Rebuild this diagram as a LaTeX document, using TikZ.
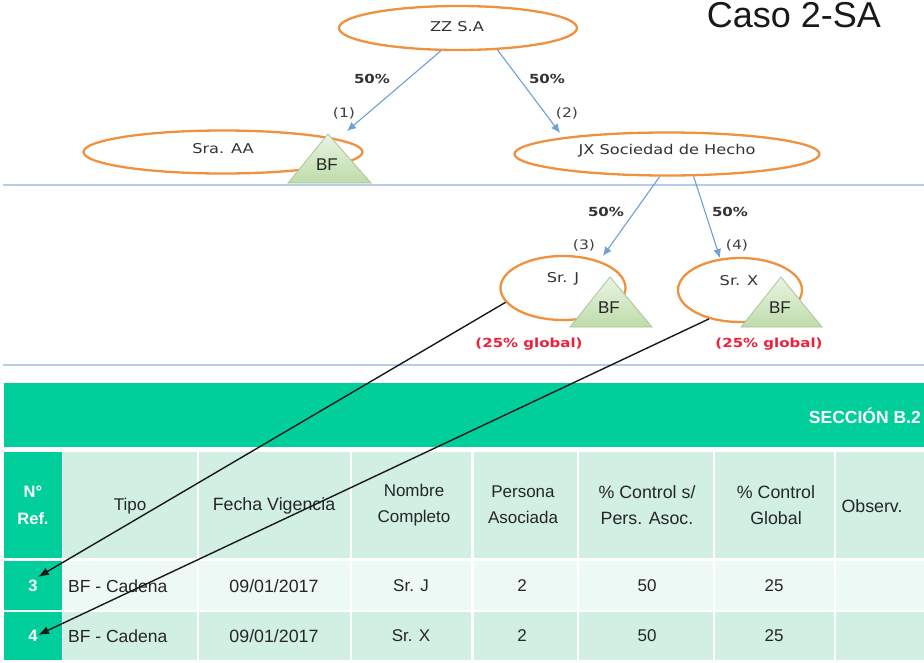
\documentclass[tikz,border=0pt]{standalone}
\usepackage{fontspec}
\setmainfont{Liberation Sans}
\newfontfamily\dv[FakeStretch=1.2]{DejaVu Sans}
\usetikzlibrary{shapes.geometric,arrows.meta}
\definecolor{hdgreen}{HTML}{00CF9B}
\definecolor{cellgreen}{HTML}{D1EFE3}
\definecolor{celllight}{HTML}{EDF9F4}
\definecolor{ringor}{HTML}{F0913F}
\definecolor{bluearrow}{HTML}{6F9FD8}
\definecolor{sepblue}{HTML}{B4CDEA}
\definecolor{trileft}{HTML}{EAF4E3}
\definecolor{triright}{HTML}{BEDBAA}
\definecolor{tiplblred}{HTML}{F0203A}
\tikzset{
  ring/.style={ellipse,draw=ringor,line width=2.3pt,fill=white,inner sep=0pt},
  ringtxt/.style={font=\dv\fontsize{13.5}{15}\selectfont,text=black!80,inner sep=0pt},
  pct/.style={font=\dv\bfseries\fontsize{12.5}{14}\selectfont,text=black!80,inner sep=0pt},
  idx/.style={font=\dv\fontsize{13}{14}\selectfont,text=black!75,inner sep=0pt},
  glob/.style={font=\dv\bfseries\fontsize{12.5}{14}\selectfont,text=tiplblred,inner sep=0pt},
  tri/.style={draw=triright!90!black,line width=.8pt,top color=trileft,bottom color=triright},
  bftxt/.style={font=\fontsize{17}{19}\selectfont,text=black!85,inner sep=0pt},
  own/.style={-{Latex[length=9pt,width=8pt]},draw=bluearrow,line width=1.1pt},
  link/.style={-{Latex[length=11pt,width=8pt]},draw=black!90,line width=1.4pt},
  sepl/.style={draw=sepblue,line width=1.2pt},
  cell/.style={inner sep=0pt,align=center,text=black!85,font=\fontsize{17}{26}\selectfont},
  cellw/.style={cell,font=\fontsize{17.8}{26}\selectfont},
  cellb/.style={cell,font=\fontsize{17.5}{26}\selectfont,anchor=west},
  gcell/.style={cell,text=white,font=\bfseries\fontsize{16.5}{27}\selectfont},
}
\begin{document}
\begin{tikzpicture}[x=1pt,y=-1pt]
\useasboundingbox (0,0) rectangle (924,662);
\fill[white] (0,0) rectangle (924,662);
% separators
\coordinate (s1a) at (3,185); \coordinate (s1b) at (924,185);
\coordinate (s2a) at (3,365); \coordinate (s2b) at (924,365);
\draw[sepl] (s1a) -- (s1b);
\draw[sepl] (s2a) -- (s2b);
% title
\node[font=\fontsize{36}{40}\selectfont,text=black!90,inner sep=0pt] (title) at (794,15.5) {Caso 2-SA};
% ellipses
\node[ring,minimum width=238pt,minimum height=44pt] (zz) at (458,28) {};
\node[ringtxt] (zzt) at (457,27) {ZZ S.A};
\node[ring,minimum width=279pt,minimum height=43pt] (aa) at (223,152) {};
\node[ringtxt] (aat) at (223,149) {Sra. AA};
\node[ring,minimum width=305pt,minimum height=43pt] (jx) at (667,154) {};
\node[ringtxt] (jxt) at (667,151) {JX Sociedad de Hecho};
\node[ring,minimum width=125pt,minimum height=64pt] (srj) at (563,288) {};
\node[ringtxt] (srjt) at (563,279) {Sr. J};
\node[ring,minimum width=124pt,minimum height=64pt] (srx) at (740,290) {};
\node[ringtxt] (srxt) at (739,281) {Sr. X};
% triangles
\path[tri] (328,134) -- (371,183) -- (288,183) -- cycle;
\node[bftxt] (bf1) at (327,165) {BF};
\path[tri] (610,277) -- (652,327) -- (570,327) -- cycle;
\node[bftxt] (bf2) at (609,308) {BF};
\path[tri] (781,277) -- (822,327) -- (741,327) -- cycle;
\node[bftxt] (bf3) at (780,308) {BF};
% labels
\node[pct] (p1) at (372,79) {50\%};
\node[pct] (p2) at (547,79) {50\%};
\node[pct] (p3) at (606,212) {50\%};
\node[pct] (p4) at (730,212) {50\%};
\node[idx] (i1) at (344,113) {(1)};
\node[idx] (i2) at (567,113) {(2)};
\node[idx] (i3) at (584,245) {(3)};
\node[idx] (i4) at (737,245) {(4)};
\node[glob] (g1) at (529,344) {(25\% global)};
\node[glob] (g2) at (769,344) {(25\% global)};
% table fills
\fill[hdgreen] (4,383) rectangle (924,447);
\fill[hdgreen] (4,452) rectangle (62,558);
\fill[hdgreen] (4,561) rectangle (62,610);
\fill[hdgreen] (4,612) rectangle (62,660);
\foreach \l/\r in {63/197,199/350,352/471,474/577,579/713,715/834,836/924}{
  \fill[cellgreen] (\l,452) rectangle (\r,558);
  \fill[celllight] (\l,561) rectangle (\r,610);
  \fill[cellgreen] (\l,612) rectangle (\r,660);
}
\node[font=\bfseries\fontsize{17.5}{20}\selectfont,text=white,anchor=east,inner sep=0pt] (sec) at (921,416) {SECCIÓN B.2};
% header
\node[gcell] (h0) at (33,505) {N°\\Ref.};
\node[cell] (h1) at (130,506) {Tipo};
\node[cellw] (h2) at (274,506) {Fecha Vigencia};
\node[cell] (h3) at (414,505) {Nombre\\Completo};
\node[cell] (h4) at (523,505) {Persona\\Asociada};
\node[cellw] (h5) at (647,505) {\% Control s/\\Pers. Asoc.};
\node[cellw] (h6) at (776,505) {\% Control\\Global};
\node[cellw] (h7) at (872,506) {Observ.};
% row 3
\node[gcell] (a0) at (33,586) {3};
\node[cellb] (a1) at (68,586) {BF - Cadena};
\node[cellw] (a2) at (274,586) {09/01/2017};
\node[cell] (a3) at (411,586) {Sr. J};
\node[cell] (a4) at (522,586) {2};
\node[cell] (a5) at (647,586) {50};
\node[cell] (a6) at (774,586) {25};
% row 4
\node[gcell] (b0) at (33,636) {4};
\node[cellb] (b1) at (68,636) {BF - Cadena};
\node[cellw] (b2) at (274,636) {09/01/2017};
\node[cell] (b3) at (411,636) {Sr. X};
\node[cell] (b4) at (522,636) {2};
\node[cell] (b5) at (647,636) {50};
\node[cell] (b6) at (774,636) {25};
% connectors
\coordinate (taa) at (347,131);
\coordinate (tjx) at (560,133);
\coordinate (tj) at (603,256);
\coordinate (tx) at (720,258);
\coordinate (t3) at (38,577);
\coordinate (t4) at (38,635);
\draw[own] (zz.233) -- (taa);
\draw[own] (zz.331) -- (tjx);
\draw[own] (jx.252) -- (tj);
\draw[own] (jx.320) -- (tx);
\draw[link] (srj.194) -- (t3);
\draw[link] (srx.223) -- (t4);
\end{tikzpicture}
\end{document}
